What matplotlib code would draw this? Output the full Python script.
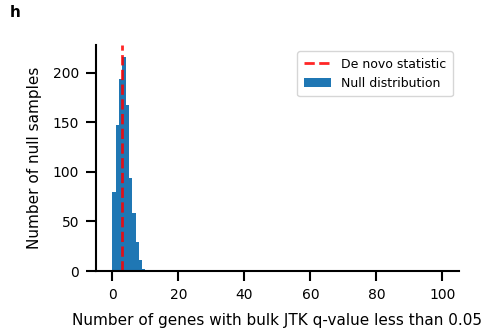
import matplotlib
matplotlib.use("Agg")
import matplotlib.pyplot as plt
import numpy as np

bin_edges = np.arange(0, 11, 1)
counts = [80, 147, 194, 216, 168, 94, 59, 29, 11, 2]
de_novo = 3
xticks = [0, 20, 40, 60, 80, 100]
yticks = [0, 50, 100, 150, 200]

fig = plt.figure(figsize=(4.87, 3.34), dpi=100)
ax = fig.add_axes([0.197, 0.1886, 0.7455, 0.676])
ax.bar(bin_edges[:-1], counts, width=1, align='edge', color='#1f77b4',
       label='Null distribution')
ax.axvline(de_novo, color='red', linestyle='--', linewidth=2,
           label='De novo statistic', alpha=0.85)
ax.set_xlim(-5, 105)
ax.set_ylim(0, 228)
ax.set_xticks(xticks)
ax.set_yticks(yticks)
ax.spines['top'].set_visible(False)
ax.spines['right'].set_visible(False)
ax.spines['left'].set_linewidth(1.5)
ax.spines['bottom'].set_linewidth(1.5)
ax.tick_params(labelsize=10, width=1.5, length=7, pad=5)
ax.set_xlabel('Number of genes with bulk JTK q-value less than 0.05',
              fontsize=11, labelpad=8)
ax.set_ylabel('Number of null samples', fontsize=11, labelpad=8)
ax.legend(loc='upper right', fontsize=9, borderpad=0.5, handlelength=2.2)
fig.text(0.02, 0.962, 'h', fontsize=11, fontweight='bold', va='center')
fig.savefig('out.png', dpi=100)
